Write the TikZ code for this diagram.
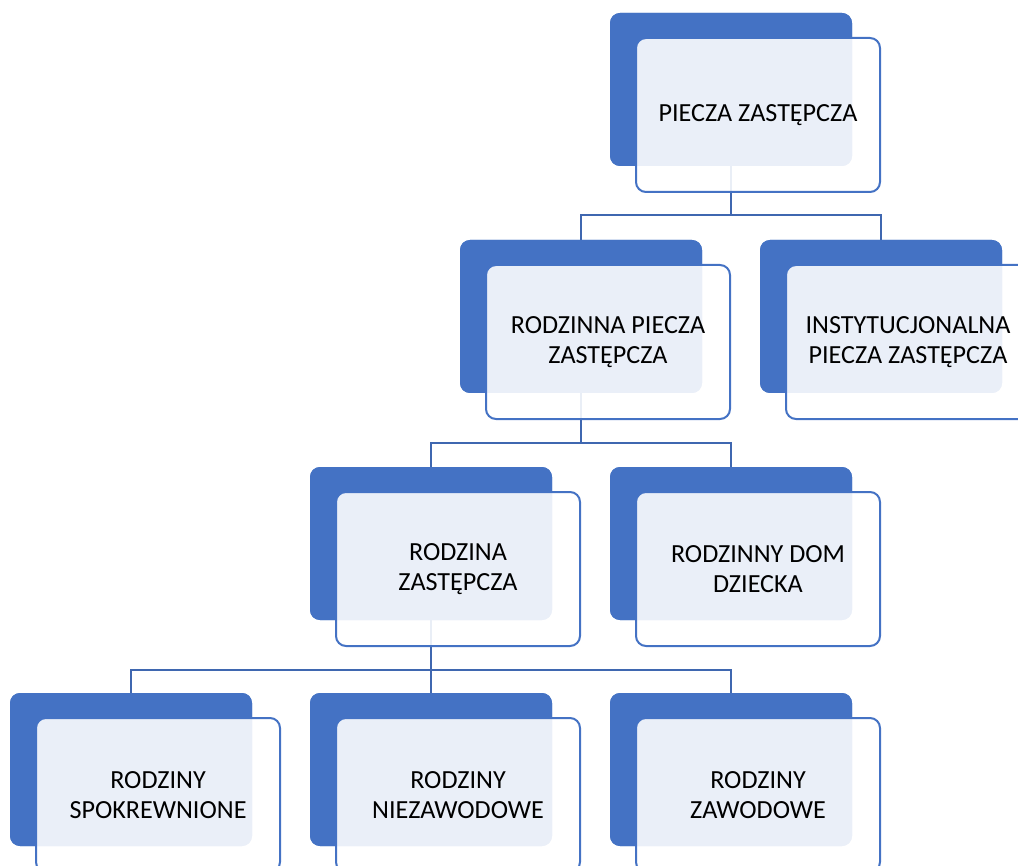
\documentclass[tikz,border=0pt]{standalone}
\usepackage{fontspec}
\setmainfont{Carlito}
\definecolor{accent}{HTML}{4472C4}
\definecolor{connblue}{HTML}{3F67B0}
\begin{document}
\begin{tikzpicture}[x=0.75pt,y=-0.75pt,
  backbox/.style={rectangle, rounded corners=7.5pt, fill=accent, draw=none,
    minimum width=181.5pt, minimum height=114.75pt, inner sep=0pt},
  frontbox/.style={rectangle, rounded corners=7.5pt, fill=white, fill opacity=0.89,
    text opacity=1, draw=accent, line width=1.5pt,
    minimum width=183pt, minimum height=115.5pt, inner sep=2pt,
    align=center, text=black, font=\fontsize{19.6pt}{22.5pt}\selectfont},
  conn/.style={draw=connblue, line width=1.5pt}]
\useasboundingbox (0,0) rectangle (1018,866);
\clip (0,0) rectangle (1018,866);
% back boxes (centre = corner + (121,76.5))
\node[backbox] (b1) at (731,89.5) {};
\node[backbox] (b2) at (581,316.5) {};
\node[backbox] (b3) at (881,316.5) {};
\node[backbox] (b4) at (431,543.5) {};
\node[backbox] (b5) at (731,543.5) {};
\node[backbox] (b6) at (131,769.5) {};
\node[backbox] (b7) at (431,769.5) {};
\node[backbox] (b8) at (731,769.5) {};
% connectors
\begin{scope}[on background layer/.style={}]
\draw[conn] (b1.south) -- ++(0,49) coordinate (j1) -| (b2.north);
\draw[conn] (j1) -| (b3.north);
\draw[conn] (b2.south) -- ++(0,50) coordinate (j2) -| (b4.north);
\draw[conn] (j2) -| (b5.north);
\draw[conn] (b4.south) -- ++(0,50) coordinate (j3) -| (b6.north);
\draw[conn] (j3) -| (b7.north);
\draw[conn] (j3) -| (b8.north);
\end{scope}
% redraw back boxes over connector ends
\node[backbox] at (b1) {};
\node[backbox] at (b2) {};
\node[backbox] at (b3) {};
\node[backbox] at (b4) {};
\node[backbox] at (b5) {};
\node[backbox] at (b6) {};
\node[backbox] at (b7) {};
\node[backbox] at (b8) {};
% front boxes (centre = corner + (148,102))
\node[frontbox] (f1) at (758,115) {PIECZA ZASTĘPCZA};
\node[frontbox] (f2) at (608,342) {RODZINNA PIECZA\\ZASTĘPCZA};
\node[frontbox] (f3) at (908,342) {INSTYTUCJONALNA\\PIECZA ZASTĘPCZA};
\node[frontbox] (f4) at (458,569) {RODZINA\\ZASTĘPCZA};
\node[frontbox] (f5) at (758,569) {RODZINNY DOM\\DZIECKA};
\node[frontbox] (f6) at (158,795) {RODZINY\\SPOKREWNIONE};
\node[frontbox] (f7) at (458,795) {RODZINY\\NIEZAWODOWE};
\node[frontbox] (f8) at (758,795) {RODZINY\\ZAWODOWE};
\end{tikzpicture}
\end{document}
